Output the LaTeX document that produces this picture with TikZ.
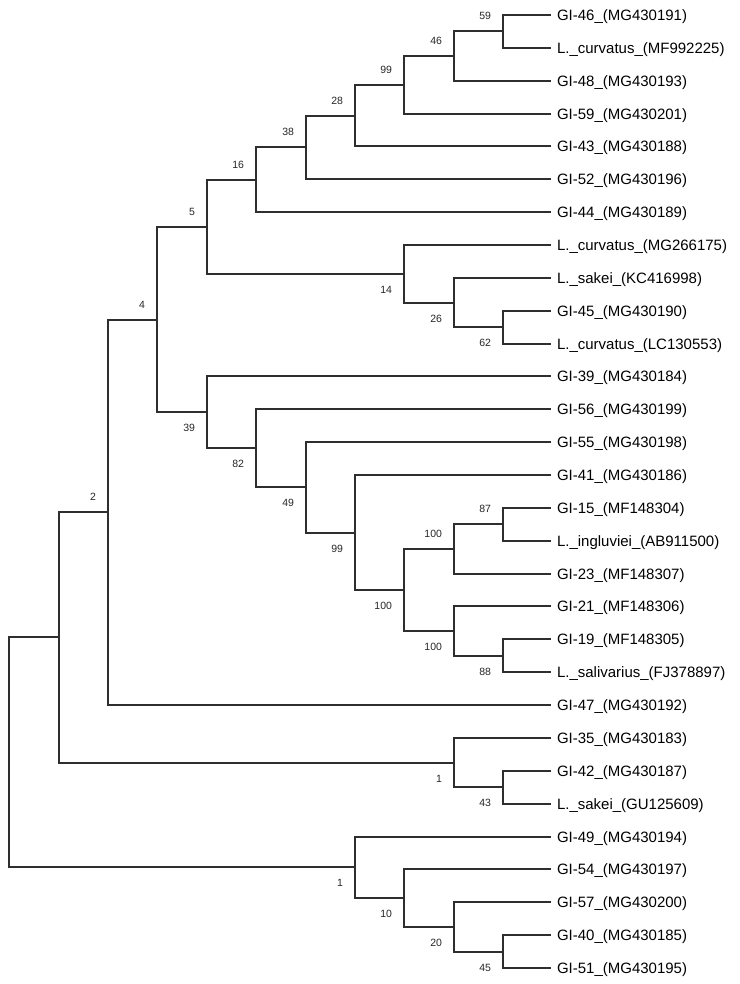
\documentclass[tikz,border=0pt]{standalone}
\usepackage{fontspec}
\setmainfont{Liberation Sans}
\begin{document}
\begin{tikzpicture}[x=1pt,y=-1pt,
  br/.style={draw=black!82, line width=1.5pt},
  leaf/.style={anchor=west, inner xsep=6pt, inner ysep=0pt, outer sep=0pt, font=\fontsize{15}{15}\selectfont, text height=10.7pt, text depth=0pt},
  lab/.style={anchor=east, inner sep=0pt, outer sep=0pt, font=\fontsize{10.5}{10.5}\selectfont, text=black!85}]
\useasboundingbox (0,0) rectangle (739,984);
\def\Y#1{{round(15+32.86*(#1))}}
% leaves
\node[leaf] (L0)  at (551, \Y{0})  {GI-46\_(MG430191)};
\node[leaf] (L1)  at (551, \Y{1})  {L.\_curvatus\_(MF992225)};
\node[leaf] (L2)  at (551, \Y{2})  {GI-48\_(MG430193)};
\node[leaf] (L3)  at (551, \Y{3})  {GI-59\_(MG430201)};
\node[leaf] (L4)  at (551, \Y{4})  {GI-43\_(MG430188)};
\node[leaf] (L5)  at (551, \Y{5})  {GI-52\_(MG430196)};
\node[leaf] (L6)  at (551, \Y{6})  {GI-44\_(MG430189)};
\node[leaf] (L7)  at (551, \Y{7})  {L.\_curvatus\_(MG266175)};
\node[leaf] (L8)  at (551, \Y{8})  {L.\_sakei\_(KC416998)};
\node[leaf] (L9)  at (551, \Y{9})  {GI-45\_(MG430190)};
\node[leaf] (L10) at (551, \Y{10}) {L.\_curvatus\_(LC130553)};
\node[leaf] (L11) at (551, \Y{11}) {GI-39\_(MG430184)};
\node[leaf] (L12) at (551, \Y{12}) {GI-56\_(MG430199)};
\node[leaf] (L13) at (551, \Y{13}) {GI-55\_(MG430198)};
\node[leaf] (L14) at (551, \Y{14}) {GI-41\_(MG430186)};
\node[leaf] (L15) at (551, \Y{15}) {GI-15\_(MF148304)};
\node[leaf] (L16) at (551, \Y{16}) {L.\_ingluviei\_(AB911500)};
\node[leaf] (L17) at (551, \Y{17}) {GI-23\_(MF148307)};
\node[leaf] (L18) at (551, \Y{18}) {GI-21\_(MF148306)};
\node[leaf] (L19) at (551, \Y{19}) {GI-19\_(MF148305)};
\node[leaf] (L20) at (551, \Y{20}) {L.\_salivarius\_(FJ378897)};
\node[leaf] (L21) at (551, \Y{21}) {GI-47\_(MG430192)};
\node[leaf] (L22) at (551, \Y{22}) {GI-35\_(MG430183)};
\node[leaf] (L23) at (551, \Y{23}) {GI-42\_(MG430187)};
\node[leaf] (L24) at (551, \Y{24}) {L.\_sakei\_(GU125609)};
\node[leaf] (L25) at (551, \Y{25}) {GI-49\_(MG430194)};
\node[leaf] (L26) at (551, \Y{26}) {GI-54\_(MG430197)};
\node[leaf] (L27) at (551, \Y{27}) {GI-57\_(MG430200)};
\node[leaf] (L28) at (551, \Y{28}) {GI-40\_(MG430185)};
\node[leaf] (L29) at (551, \Y{29}) {GI-51\_(MG430195)};
% internal nodes
\coordinate (n59)   at (503, \Y{0.5});
\coordinate (n46)   at (454, \Y{1.25});
\coordinate (n99a)  at (404, \Y{2.125});
\coordinate (n28)   at (355, \Y{3.0625});
\coordinate (n38)   at (306, \Y{4.03125});
\coordinate (n16)   at (256, \Y{5.015625});
\coordinate (n62)   at (503, \Y{9.5});
\coordinate (n26)   at (454, \Y{8.75});
\coordinate (n14)   at (404, \Y{7.875});
\coordinate (n5)    at (207, \Y{6.4453125});
\coordinate (n87)   at (503, \Y{15.5});
\coordinate (n100a) at (454, \Y{16.25});
\coordinate (n88)   at (503, \Y{19.5});
\coordinate (n100c) at (454, \Y{18.75});
\coordinate (n100b) at (404, \Y{17.5});
\coordinate (n99b)  at (355, \Y{15.75});
\coordinate (n49)   at (306, \Y{14.375});
\coordinate (n82)   at (256, \Y{13.1875});
\coordinate (n39)   at (207, \Y{12.09375});
\coordinate (n4)    at (157, \Y{9.26953125});
\coordinate (n2)    at (108, \Y{15.134765625});
\coordinate (n43)   at (503, \Y{23.5});
\coordinate (n1a)   at (454, \Y{22.75});
\coordinate (nX)    at (59,  \Y{18.9423828125});
\coordinate (n45)   at (503, \Y{28.5});
\coordinate (n20)   at (454, \Y{27.75});
\coordinate (n10)   at (404, \Y{26.875});
\coordinate (n1b)   at (355, \Y{25.9375});
\coordinate (root)  at (9,   \Y{22.43994140625});
% branches
\draw[br] (n59) |- (L0);   \draw[br] (n59) |- (L1);
\draw[br] (n46) |- (n59);  \draw[br] (n46) |- (L2);
\draw[br] (n99a) |- (n46); \draw[br] (n99a) |- (L3);
\draw[br] (n28) |- (n99a); \draw[br] (n28) |- (L4);
\draw[br] (n38) |- (n28);  \draw[br] (n38) |- (L5);
\draw[br] (n16) |- (n38);  \draw[br] (n16) |- (L6);
\draw[br] (n62) |- (L9);   \draw[br] (n62) |- (L10);
\draw[br] (n26) |- (L8);   \draw[br] (n26) |- (n62);
\draw[br] (n14) |- (L7);   \draw[br] (n14) |- (n26);
\draw[br] (n5) |- (n16);   \draw[br] (n5) |- (n14);
\draw[br] (n87) |- (L15);  \draw[br] (n87) |- (L16);
\draw[br] (n100a) |- (n87); \draw[br] (n100a) |- (L17);
\draw[br] (n88) |- (L19);  \draw[br] (n88) |- (L20);
\draw[br] (n100c) |- (L18); \draw[br] (n100c) |- (n88);
\draw[br] (n100b) |- (n100a); \draw[br] (n100b) |- (n100c);
\draw[br] (n99b) |- (L14); \draw[br] (n99b) |- (n100b);
\draw[br] (n49) |- (L13);  \draw[br] (n49) |- (n99b);
\draw[br] (n82) |- (L12);  \draw[br] (n82) |- (n49);
\draw[br] (n39) |- (L11);  \draw[br] (n39) |- (n82);
\draw[br] (n4) |- (n5);    \draw[br] (n4) |- (n39);
\draw[br] (n2) |- (n4);    \draw[br] (n2) |- (L21);
\draw[br] (n43) |- (L23);  \draw[br] (n43) |- (L24);
\draw[br] (n1a) |- (L22);  \draw[br] (n1a) |- (n43);
\draw[br] (nX) |- (n2);    \draw[br] (nX) |- (n1a);
\draw[br] (n45) |- (L28);  \draw[br] (n45) |- (L29);
\draw[br] (n20) |- (L27);  \draw[br] (n20) |- (n45);
\draw[br] (n10) |- (L26);  \draw[br] (n10) |- (n20);
\draw[br] (n1b) |- (L25);  \draw[br] (n1b) |- (n10);
\draw[br] (root) |- (nX);  \draw[br] (root) |- (n1b);
% bootstrap labels
\node[lab] (b59)   at ([shift={(-12,-15.5)}]n59)   {59};
\node[lab] (b46)   at ([shift={(-12,-15.5)}]n46)   {46};
\node[lab] (b99a)  at ([shift={(-12,-15.5)}]n99a)  {99};
\node[lab] (b28)   at ([shift={(-12,-15.5)}]n28)   {28};
\node[lab] (b38)   at ([shift={(-12,-15.5)}]n38)   {38};
\node[lab] (b16)   at ([shift={(-12,-15.5)}]n16)   {16};
\node[lab] (b5)    at ([shift={(-12,-15.5)}]n5)    {5};
\node[lab] (b14)   at ([shift={(-12,15.5)}]n14)    {14};
\node[lab] (b26)   at ([shift={(-12,15.5)}]n26)    {26};
\node[lab] (b62)   at ([shift={(-12,15.5)}]n62)    {62};
\node[lab] (b4)    at ([shift={(-12,-15.5)}]n4)    {4};
\node[lab] (b39)   at ([shift={(-12,15.5)}]n39)    {39};
\node[lab] (b82)   at ([shift={(-12,15.5)}]n82)    {82};
\node[lab] (b49)   at ([shift={(-12,15.5)}]n49)    {49};
\node[lab] (b99b)  at ([shift={(-12,15.5)}]n99b)   {99};
\node[lab] (b100b) at ([shift={(-12,15.5)}]n100b)  {100};
\node[lab] (b100a) at ([shift={(-12,-15.5)}]n100a) {100};
\node[lab] (b87)   at ([shift={(-12,-15.5)}]n87)   {87};
\node[lab] (b100c) at ([shift={(-12,15.5)}]n100c)  {100};
\node[lab] (b88)   at ([shift={(-12,15.5)}]n88)    {88};
\node[lab] (b2)    at ([shift={(-12,-15.5)}]n2)    {2};
\node[lab] (b1a)   at ([shift={(-12,15.5)}]n1a)    {1};
\node[lab] (b43)   at ([shift={(-12,15.5)}]n43)    {43};
\node[lab] (b1b)   at ([shift={(-12,15.5)}]n1b)    {1};
\node[lab] (b10)   at ([shift={(-12,15.5)}]n10)    {10};
\node[lab] (b20)   at ([shift={(-12,15.5)}]n20)    {20};
\node[lab] (b45)   at ([shift={(-12,15.5)}]n45)    {45};
\end{tikzpicture}
\end{document}
